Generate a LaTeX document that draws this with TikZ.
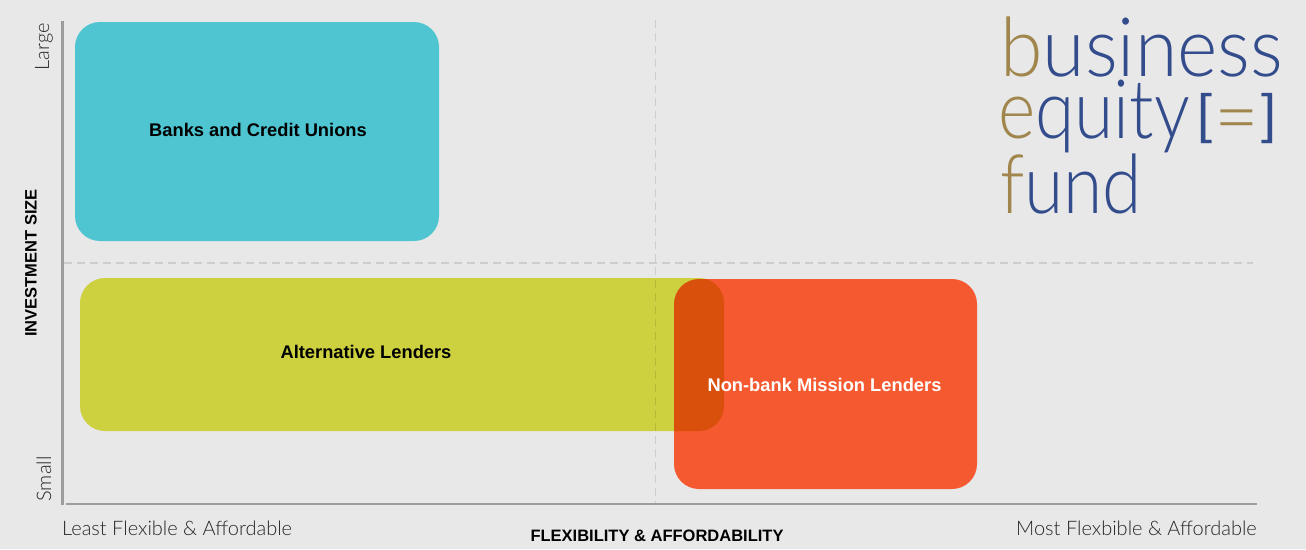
\documentclass[tikz,border=0pt]{standalone}
\usepackage{xcolor}
\usepackage{fontspec}
\setmainfont{Liberation Sans}
\newfontfamily\logofont[FakeStretch=0.94]{Lato Light}
\newfontfamily\fundfont[FakeStretch=0.87]{Lato Light}
\newfontfamily\thinfont{Lato Light}
\definecolor{pagegray}{RGB}{232, 232, 232}
\definecolor{axisgray}{RGB}{157, 157, 160}
\definecolor{dashgray}{RGB}{226, 226, 228}
\definecolor{bankteal}{RGB}{78, 197, 209}
\definecolor{altyellow}{RGB}{226, 230, 70}
\definecolor{missionred}{RGB}{245, 89, 48}
\definecolor{logogold}{RGB}{160, 134, 77}
\definecolor{logoblue}{RGB}{50, 76, 140}
\usetikzlibrary{positioning}

\begin{document}
\begin{tikzpicture}[
        x=1pt, y=-1pt,
        box/.style={rectangle, rounded corners=25pt, inner sep=0pt, text centered},
        boxlabel/.style={font=\fontsize{18.3}{20}\selectfont\bfseries},
        axis/.style={line width=2.5pt, color=axisgray},
        divider/.style={line width=1.5pt, dash pattern=on 8pt off 5pt, color=dashgray, blend mode=multiply},
        endlabel/.style={font=\fontsize{20}{22}\selectfont\thinfont, color=black!85},
        axislabel/.style={font=\fontsize{16.5}{18}\selectfont\bfseries},
        logo/.style={font=\fontsize{82}{82}\selectfont\logofont, anchor=base west, inner sep=0pt}
    ]
        \useasboundingbox (0,0) rectangle (1306,549);
        \fill[pagegray] (0,0) rectangle (1306,549);

        % Boxes
        \node[box, fill=bankteal, minimum width=364pt, minimum height=219pt] (banks) at (257,131.5) {};
        \node[box, fill=missionred, minimum width=303pt, minimum height=210pt] (mission) at (825.5,384) {};
        \node[box, fill=altyellow, minimum width=644pt, minimum height=153pt, blend mode=multiply] (alt) at (402,354.5) {};

        % Box labels
        \node[boxlabel] (banksname) at (258,130) {Banks and Credit Unions};
        \node[boxlabel] (altname) at (366,352) {Alternative Lenders};
        \node[boxlabel, color=white] (missionname) at (824.5,385) {Non-bank Mission Lenders};

        % Axes
        \coordinate (ytop) at (62.5,21);
        \coordinate (ybottom) at (62.5,505);
        \coordinate (xleft) at (66,504);
        \coordinate (xright) at (1257,504);
        \draw[axis] (ytop) -- (ybottom);
        \draw[axis] (xleft) -- (xright);

        % Quadrant dividers
        \coordinate (hleft) at (64,263);
        \coordinate (hright) at (1253,263);
        \coordinate (vtop) at (655.5,20);
        \coordinate (vbottom) at (655.5,503);
        \draw[divider] (hleft) -- (hright);
        \draw[divider] (vtop) -- (vbottom);

        % Axis labels
        \node[endlabel, rotate=90] (large) at (44,47) {Large};
        \node[endlabel, rotate=90] (small) at (44,479) {Small};
        \node[endlabel, anchor=west, inner sep=0pt] (least) at (62,528) {Least Flexible \& Affordable};
        \node[endlabel, anchor=east, inner sep=0pt] (most) at (1257,528) {Most Flexbible \& Affordable};
        \node[axislabel, rotate=90] (ysize) at (31,263) {INVESTMENT SIZE};
        \node[axislabel] (xflex) at (657,536) {FLEXIBILITY \& AFFORDABILITY};

        % Logo
        \node[logo] (business) at (1000,76) {\textcolor{logogold}{b}\textcolor{logoblue}{usiness}};
        \node[logo, font=\fontsize{82}{82}\selectfont\fundfont] (equity) at (998,138) {\textcolor{logogold}{e}\textcolor{logoblue}{quity}\kern 8pt\raisebox{6pt}{\textcolor{logoblue}{\rmfamily\fontsize{54}{54}\selectfont[}}\kern 2pt\raisebox{-7pt}{\textcolor{logogold}{\logofont=}}\kern 2pt\raisebox{6pt}{\textcolor{logoblue}{\rmfamily\fontsize{54}{54}\selectfont]}}};
        \node[logo, font=\fontsize{82}{82}\selectfont\fundfont] (fund) at (1000,213) {\textcolor{logogold}{f}\textcolor{logoblue}{und}};
    \end{tikzpicture}
\end{document}
